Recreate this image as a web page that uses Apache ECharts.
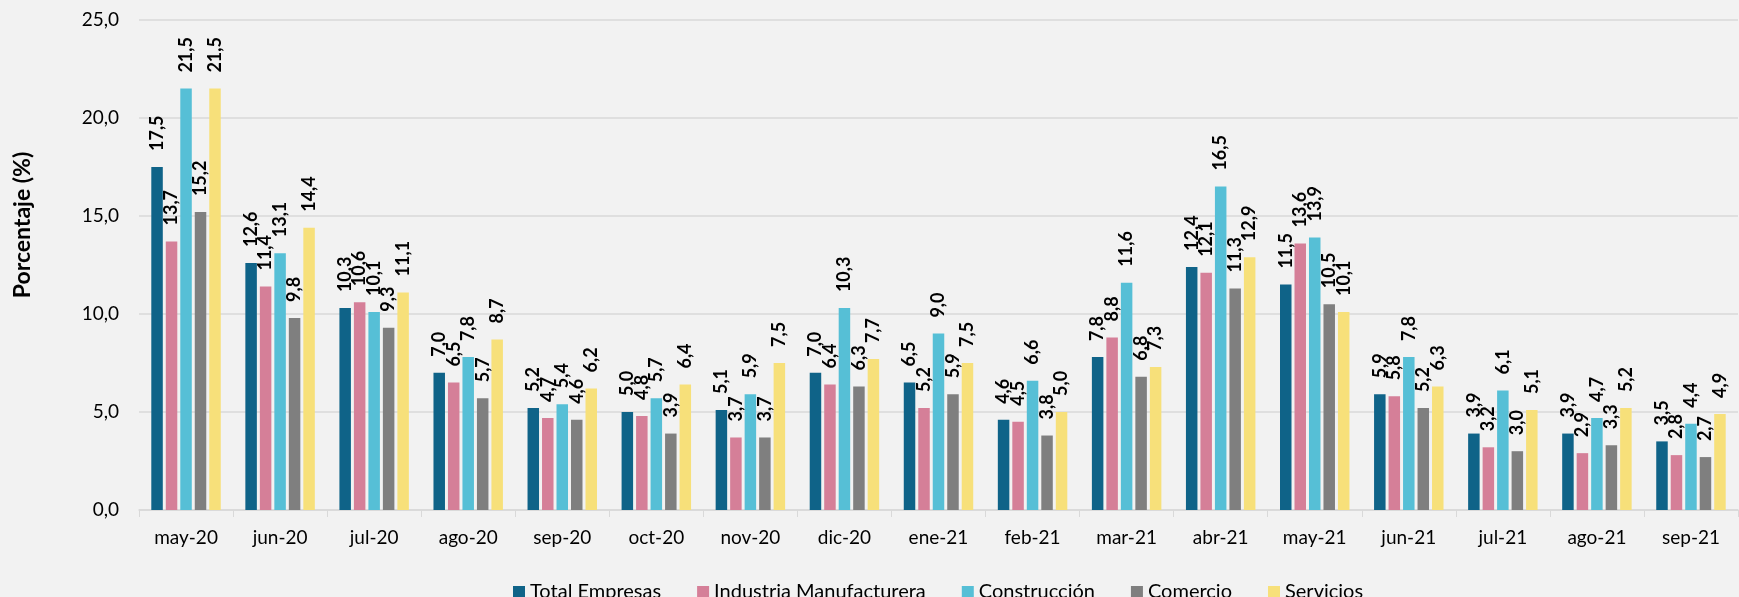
<!DOCTYPE html>
<html>
<head>
<meta charset="utf-8">
<script src="https://cdn.jsdelivr.net/npm/echarts@6/dist/echarts.min.js"></script>
<style>
html,body{margin:0;padding:0;background:#f2f2f2;}
#chart{width:1739px;height:597px;}
</style>
</head>
<body>
<div id="chart"></div>
<script>
//categorias y datos
var meses=['may-20','jun-20','jul-20','ago-20','sep-20','oct-20','nov-20','dic-20','ene-21','feb-21','mar-21','abr-21','may-21','jun-21','jul-21','ago-21','sep-21'];
var totalEmpresas=[17.5,12.6,10.3,7.0,5.2,5.0,5.1,7.0,6.5,4.6,7.8,12.4,11.5,5.9,3.9,3.9,3.5];
var industria=[13.7,11.4,10.6,6.5,4.7,4.8,3.7,6.4,5.2,4.5,8.8,12.1,13.6,5.8,3.2,2.9,2.8];
var construccion=[21.5,13.1,10.1,7.8,5.4,5.7,5.9,10.3,9.0,6.6,11.6,16.5,13.9,7.8,6.1,4.7,4.4];
var comercio=[15.2,9.8,9.3,5.7,4.6,3.9,3.7,6.3,5.9,3.8,6.8,11.3,10.5,5.2,3.0,3.3,2.7];
var servicios=[21.5,14.4,11.1,8.7,6.2,6.4,7.5,7.7,7.5,5.0,7.3,12.9,10.1,6.3,5.1,5.2,4.9];
var nombres=['Total Empresas','Industria Manufacturera','Construcción','Comercio','Servicios'];
var colores=['#0f6388','#d57f98','#56bfd6','#7f7f7f','#f7e07a'];

function coma(v){
    return Number(v).toFixed(1).replace('.',',');
}

var myChart=echarts.init(document.getElementById('chart'));
var datos=[totalEmpresas,industria,construccion,comercio,servicios];

var option={
    backgroundColor:'#f2f2f2',
    animation:false,
    color:colores,
    textStyle:{fontFamily:'Lato'},
    // titulo del eje vertical
    graphic:[{
        type:'text',
        x:23,
        y:225,
        rotation:Math.PI/2,
        style:{
            text:'Porcentaje (%)',
            align:'center',
            verticalAlign:'middle',
            fontFamily:'Lato',
            fontWeight:'bold',
            fontSize:23,
            fill:'#000'
        }
    }],
    legend:{
        data:nombres,
        left:508,
        top:577,
        itemWidth:12,
        itemHeight:12,
        itemGap:36,
        icon:'rect',
        textStyle:{fontSize:20,color:'#000',fontFamily:'Lato'}
    },
    grid:{left:139,right:1,top:20,bottom:87},
    xAxis:{
        type:'category',
        data:meses,
        axisLine:{lineStyle:{color:'#d9d9d9',width:1.5}},
        axisTick:{show:true,length:7,lineStyle:{color:'#d9d9d9'}},
        axisLabel:{fontSize:19,color:'#000',margin:18}
    },
    yAxis:{
        type:'value',
        min:0,
        max:25,
        interval:5,
        axisLine:{show:false},
        axisTick:{show:false},
        axisLabel:{fontSize:19,color:'#000',margin:20,formatter:coma},
        splitLine:{lineStyle:{color:'#d9d9d9',width:1.5}}
    },
    series:function(){
        var serie=[];
        for(var i=0;i<nombres.length;i++){
            serie.push({
                name:nombres[i],
                type:'bar',
                data:datos[i],
                barWidth:11.5,
                barGap:'26%',
                itemStyle:{color:colores[i]},
                label:{
                    show:true,
                    position:'top',
                    rotate:90,
                    align:'left',
                    verticalAlign:'middle',
                    distance:16,
                    fontFamily:'Lato',
                    fontWeight:'bold',
                    fontSize:18,
                    color:'#000',
                    formatter:function(p){return coma(p.value);}
                }
            });
        }
        return serie;
    }()
};
myChart.setOption(option);
</script>
</body>
</html>
